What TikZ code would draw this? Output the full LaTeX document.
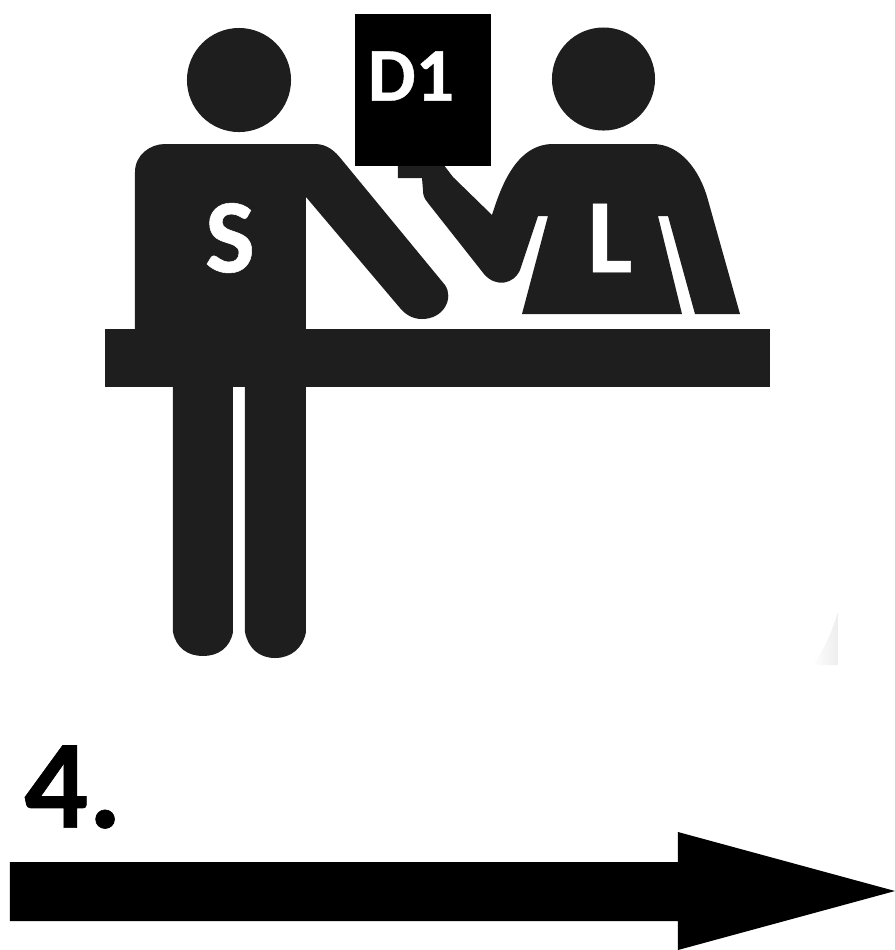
\documentclass[tikz,border=0pt]{standalone}
\usepackage{fontspec}
\setmainfont{Carlito}
\newfontfamily\heavyfont[FakeBold=0.5]{Carlito Bold}
\definecolor{figure}{HTML}{1E1E1E}
\tikzset{
    person/.style={fill=figure, draw=none},
    tag/.style={text=white, inner sep=0pt},
}

\begin{document}
\begin{tikzpicture}[x=0.01cm, y=-0.01cm]
    \useasboundingbox (0,0) rectangle (895,950);

    % Edge of the scanned picture
    \shade[left color=white, right color=black!7, draw=none] (812,665) .. controls (825,650) and (832,630) .. (838,612) -- (838,665) -- cycle;

    % Heads
    \fill[person] (239,80) circle (0.52cm);
    \fill[person] (603.5,79) circle (0.515cm);

    % Customer, with arm
    \fill[person] (135,329) -- (135,172) .. controls (135,155) and (150,144) .. (165,144)
        -- (315,144) .. controls (327,144) and (335,151) .. (342,160)
        -- (445,285) .. controls (454,298) and (444,319) .. (422,319)
        .. controls (412,319) and (405,314) .. (400,308)
        -- (306,197) -- (306,329) -- cycle;

    % Legs
    \fill[person] (173,387) -- (233,387) -- (233,632) .. controls (230,648) and (218,656) .. (203,656)
        .. controls (188,656) and (176,648) .. (173,632) -- cycle;
    \fill[person] (245,387) -- (306,387) -- (306,632) .. controls (303,648) and (291,658) .. (275,658)
        .. controls (259,658) and (248,648) .. (245,632) -- cycle;

    % Clerk, with arm
    \fill[person] (553,144) -- (653,144) .. controls (680,144) and (700,170) .. (708,200)
        -- (740,314) -- (695,314) -- (668,216) -- (658,216) -- (682,314) -- (522,314)
        -- (548,216) -- (538,216) -- (520,270) .. controls (514,284) and (496,288) .. (484,274)
        -- (428,203) .. controls (424,198) and (423,195) .. (423,190)
        -- (422,178) -- (398,178) -- (398,160) -- (440,160)
        -- (453,177) -- (492,215) .. controls (500,190) and (515,144) .. (553,144) -- cycle;

    % Counter
    \fill[person] (105,329) rectangle (770,387);

    % Document
    \node[fill=black, minimum width=1.36cm, minimum height=1.52cm, inner sep=0pt] (doc) at (423,90) {};
    \node[tag, font=\heavyfont\fontsize{21.6}{22}\selectfont] (d1) at (411,76) {D1};

    % Labels
    \node[tag, font=\heavyfont\fontsize{30}{31}\selectfont] (s) at (230,238) {S};
    \node[tag, font=\heavyfont\fontsize{30}{31}\selectfont] (l) at (610,238) {L};

    % Step number and arrow
    \node[font=\heavyfont\fontsize{36}{37}\selectfont, inner sep=0pt] (num) at (73,787) {4.};
    \fill[black] (10,862) -- (678,862) -- (678,832) -- (895,891) -- (678,950) -- (678,921) -- (10,921) -- cycle;
\end{tikzpicture}
\end{document}
